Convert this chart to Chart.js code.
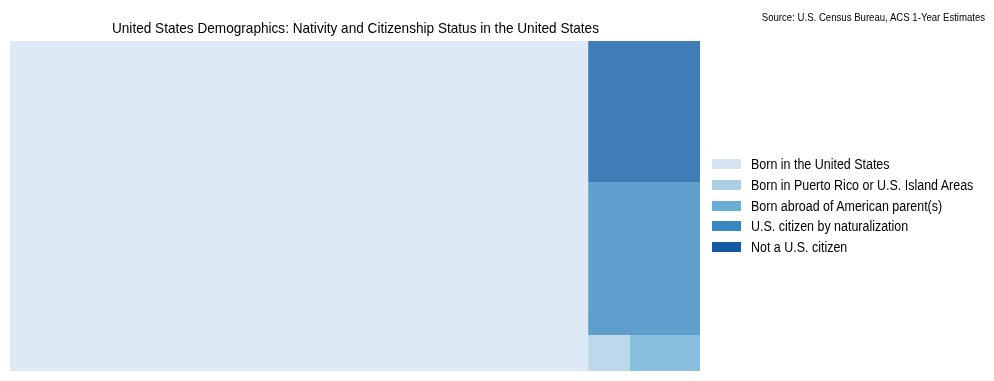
<!DOCTYPE html>
<html>
<head>
<meta charset="utf-8">
<script src="https://cdn.jsdelivr.net/npm/chart.js@4/dist/chart.umd.min.js"></script>
<style>
  html, body { margin: 0; padding: 0; background: #ffffff; }
  #wrap { position: relative; width: 994px; height: 381px; font-family: "Liberation Sans", Arial, sans-serif; color: #000; }
  #chart { position: absolute; left: 0; top: 0; }
  #title { position: absolute; left: 10px; width: 690px; top: 19px; text-align: center; font-size: 15px; line-height: 18px; white-space: nowrap; }
  #title span { display: inline-block; transform: scaleX(0.907); transform-origin: center; }
  #source { position: absolute; right: 9px; top: 10.5px; font-size: 10.5px; line-height: 12px; white-space: nowrap; transform: scaleX(0.915); transform-origin: right; }
  #legend { position: absolute; left: 712px; top: 154px; font-size: 14px; }
  .item { height: 20.7px; display: flex; align-items: center; white-space: nowrap; }
  .swatch { width: 29px; height: 10px; margin-right: 10px; flex: none; }
  .lbl { display: inline-block; transform: scaleX(0.89); transform-origin: left; line-height: 16px; }
</style>
</head>
<body>
<div id="wrap">
  <canvas id="chart" width="994" height="381"></canvas>
  <div id="title"><span>United States Demographics: Nativity and Citizenship Status in the United States</span></div>
  <div id="source">Source: U.S. Census Bureau, ACS 1-Year Estimates</div>
  <div id="legend"></div>
</div>
<script>
// ---- data ----
const categories = [
  'Born in the United States',
  'Born in Puerto Rico or U.S. Island Areas',
  'Born abroad of American parent(s)',
  'U.S. citizen by naturalization',
  'Not a U.S. citizen'
];
const populationMillions = [279.6, 2.2, 3.7, 25.1, 23.1];
const legendColors = ['#d4e4f2', '#abd0e6', '#6aaed6', '#3787c0', '#105ba4'];
const cellAlpha = 0.8;

// ---- layout domain (plot area aspect) ----
const LAYOUT_W = 690, LAYOUT_H = 330;

// squarify (Bruls et al.), y grows upward
function normalize(sizes, dx, dy) {
  const total = sizes.reduce((a, b) => a + b, 0);
  return sizes.map(s => s * dx * dy / total);
}
function layoutRow(sizes, x, y, dx, dy) {
  const covered = sizes.reduce((a, b) => a + b, 0);
  const h = covered / dx; const out = [];
  for (const s of sizes) { out.push({x, y, dx: s / h, dy: h}); x += s / h; }
  return out;
}
function layoutCol(sizes, x, y, dx, dy) {
  const covered = sizes.reduce((a, b) => a + b, 0);
  const w = covered / dy; const out = [];
  for (const s of sizes) { out.push({x, y, dx: w, dy: s / w}); y += s / w; }
  return out;
}
function layout(sizes, x, y, dx, dy) {
  return dx >= dy ? layoutCol(sizes, x, y, dx, dy) : layoutRow(sizes, x, y, dx, dy);
}
function leftover(sizes, x, y, dx, dy) {
  const covered = sizes.reduce((a, b) => a + b, 0);
  if (dx >= dy) { const w = covered / dy; return [x + w, y, dx - w, dy]; }
  const h = covered / dx; return [x, y + h, dx, dy - h];
}
function worst(sizes, x, y, dx, dy) {
  return Math.max(...layout(sizes, x, y, dx, dy).map(r => Math.max(r.dx / r.dy, r.dy / r.dx)));
}
function squarify(sizes, x, y, dx, dy) {
  if (sizes.length === 0) return [];
  if (sizes.length === 1) return layout(sizes, x, y, dx, dy);
  let i = 1;
  while (i < sizes.length && worst(sizes.slice(0, i), x, y, dx, dy) >= worst(sizes.slice(0, i + 1), x, y, dx, dy)) i++;
  const cur = sizes.slice(0, i), rem = sizes.slice(i);
  const [lx, ly, ldx, ldy] = leftover(cur, x, y, dx, dy);
  return layout(cur, x, y, dx, dy).concat(squarify(rem, lx, ly, ldx, ldy));
}

function hexToRgba(hex, a) {
  const n = parseInt(hex.slice(1), 16);
  return `rgba(${(n >> 16) & 255},${(n >> 8) & 255},${n & 255},${a})`;
}

const rects = squarify(normalize(populationMillions, LAYOUT_W, LAYOUT_H), 0, 0, LAYOUT_W, LAYOUT_H);

const datasets = rects.map((r, i) => ({
  label: categories[i],
  data: [
    {x: r.x, y: r.y}, {x: r.x + r.dx, y: r.y}, {x: r.x + r.dx, y: r.y + r.dy},
    {x: r.x, y: r.y + r.dy}, {x: r.x, y: r.y}
  ],
  showLine: true,
  fill: 'shape',
  backgroundColor: hexToRgba(legendColors[i], cellAlpha),
  borderColor: 'rgba(0,0,0,0)',
  borderWidth: 0,
  pointRadius: 0,
  pointHoverRadius: 0,
  tension: 0
}));

new Chart(document.getElementById('chart'), {
  type: 'scatter',
  data: { datasets },
  options: {
    responsive: false,
    animation: false,
    layout: { padding: { left: 10, top: 41, right: 294, bottom: 10 } },
    scales: {
      x: { type: 'linear', min: 0, max: LAYOUT_W, display: false },
      y: { type: 'linear', min: 0, max: LAYOUT_H, display: false }
    },
    plugins: { legend: { display: false }, tooltip: { enabled: false }, title: { display: false } }
  }
});

// legend
const lg = document.getElementById('legend');
categories.forEach((c, i) => {
  const d = document.createElement('div'); d.className = 'item';
  const s = document.createElement('span'); s.className = 'swatch'; s.style.background = legendColors[i];
  const t = document.createElement('span'); t.className = 'lbl'; t.textContent = c;
  d.appendChild(s); d.appendChild(t); lg.appendChild(d);
});
</script>
</body>
</html>
